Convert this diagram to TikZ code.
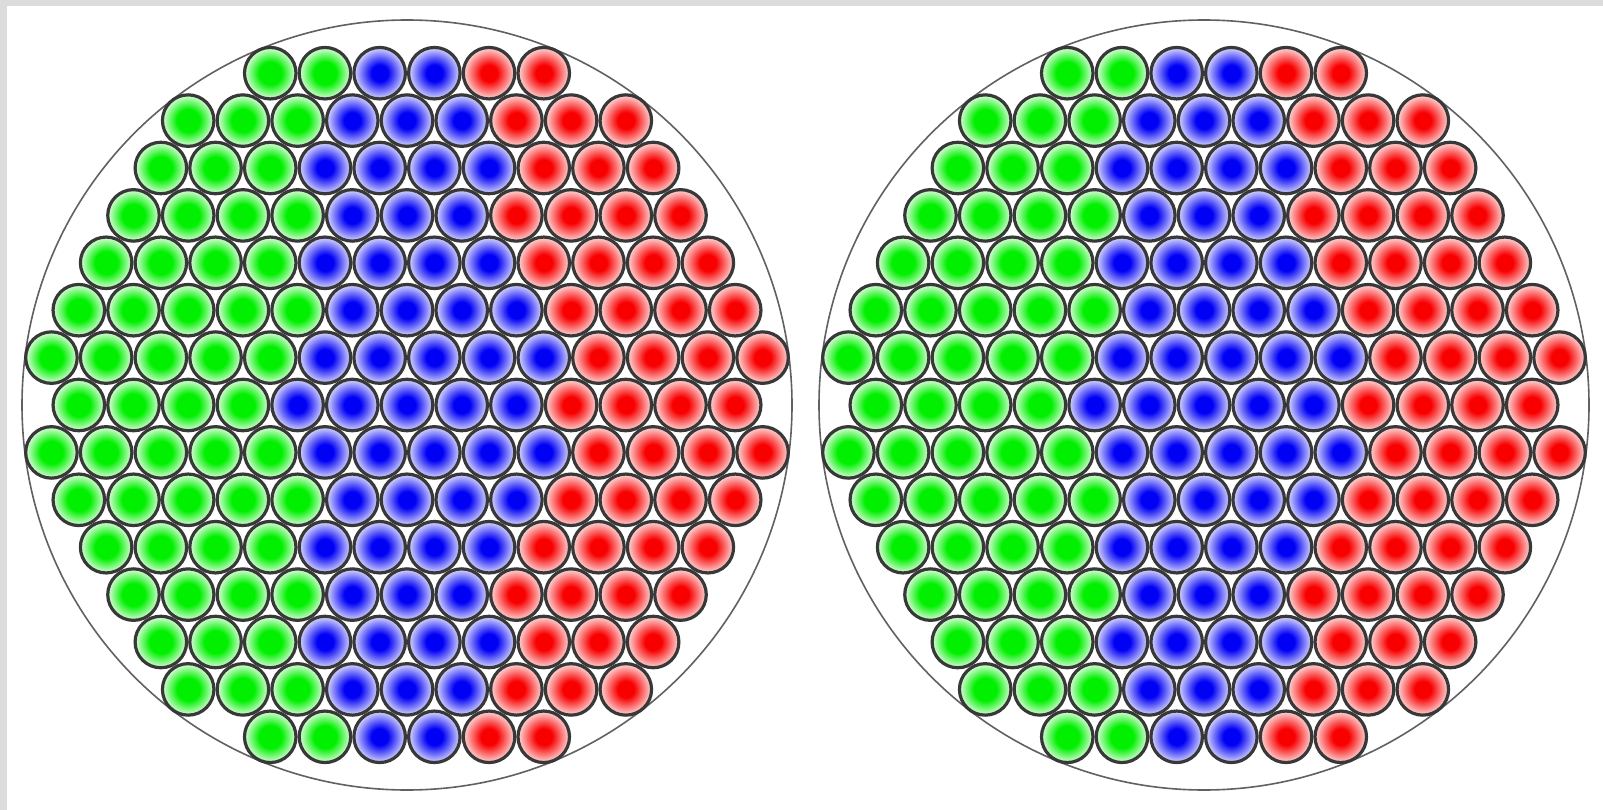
\documentclass[tikz,border=0pt]{standalone}
\usepackage{tikz}
\definecolor{rodgreen}{RGB}{0,240,0}
\definecolor{rodblue}{RGB}{0,0,245}
\definecolor{rodred}{RGB}{248,0,0}
\definecolor{framegray}{RGB}{220,220,220}
\pgfdeclareradialshading{rodshadeG}{\pgfpointorigin}{color(0bp)=(rodgreen);color(11bp)=(rodgreen);color(24bp)=(rodgreen!20!white);color(50bp)=(rodgreen!20!white)}
\pgfdeclareradialshading{rodshadeB}{\pgfpointorigin}{color(0bp)=(rodblue);color(8bp)=(rodblue);color(24bp)=(rodblue!20!white);color(50bp)=(rodblue!20!white)}
\pgfdeclareradialshading{rodshadeR}{\pgfpointorigin}{color(0bp)=(rodred);color(8bp)=(rodred);color(24bp)=(rodred!20!white);color(50bp)=(rodred!20!white)}
\tikzset{
  rodbase/.style={circle, draw=black!78, line width=3.2pt, minimum size=51.5pt, inner sep=0pt},
  rodG/.style={rodbase, shading=rodshadeG},
  rodB/.style={rodbase, shading=rodshadeB},
  rodR/.style={rodbase, shading=rodshadeR},
  vessel/.style={circle, draw=black!62, line width=1.6pt, minimum size=770pt, inner sep=0pt},
}
\begin{document}
\begin{tikzpicture}[x=1pt, y=-1pt]
  \fill[framegray] (0,0) rectangle (1603,810);
  \fill[white] (7,6) rectangle (1603,810);
  \useasboundingbox (0,0) rectangle (1603,810);
  % two core cross-sections, rows of green / blue / red rods
  \foreach \pl/\cx in {L/407, R/1204}{
    \node[vessel] (\pl-vessel) at (\cx,405) {};
    \foreach \row/\nG/\nB/\nR in {1/2/2/2, 2/3/3/3, 3/3/4/3, 4/4/3/4, 5/4/4/4,
        6/5/4/4, 7/5/5/4, 8/4/5/4, 9/5/5/4, 10/5/4/4, 11/4/4/4, 12/4/3/4,
        13/3/4/3, 14/3/3/3, 15/2/2/2}{
      \pgfmathtruncatemacro\nall{\nG+\nB+\nR}
      \pgfmathtruncatemacro\nGp{\nG+1}
      \pgfmathtruncatemacro\nGB{\nG+\nB}
      \pgfmathtruncatemacro\nGBp{\nG+\nB+1}
      \foreach \k in {1,...,\nG}
        \node[rodG] (\pl-\row-\k) at ({\cx+(\k-(\nall+1)/2)*54.7}, {405+(\row-8)*47.4}) {};
      \foreach \k in {\nGp,...,\nGB}
        \node[rodB] (\pl-\row-\k) at ({\cx+(\k-(\nall+1)/2)*54.7}, {405+(\row-8)*47.4}) {};
      \foreach \k in {\nGBp,...,\nall}
        \node[rodR] (\pl-\row-\k) at ({\cx+(\k-(\nall+1)/2)*54.7}, {405+(\row-8)*47.4}) {};
    }
  }
\end{tikzpicture}
\end{document}
